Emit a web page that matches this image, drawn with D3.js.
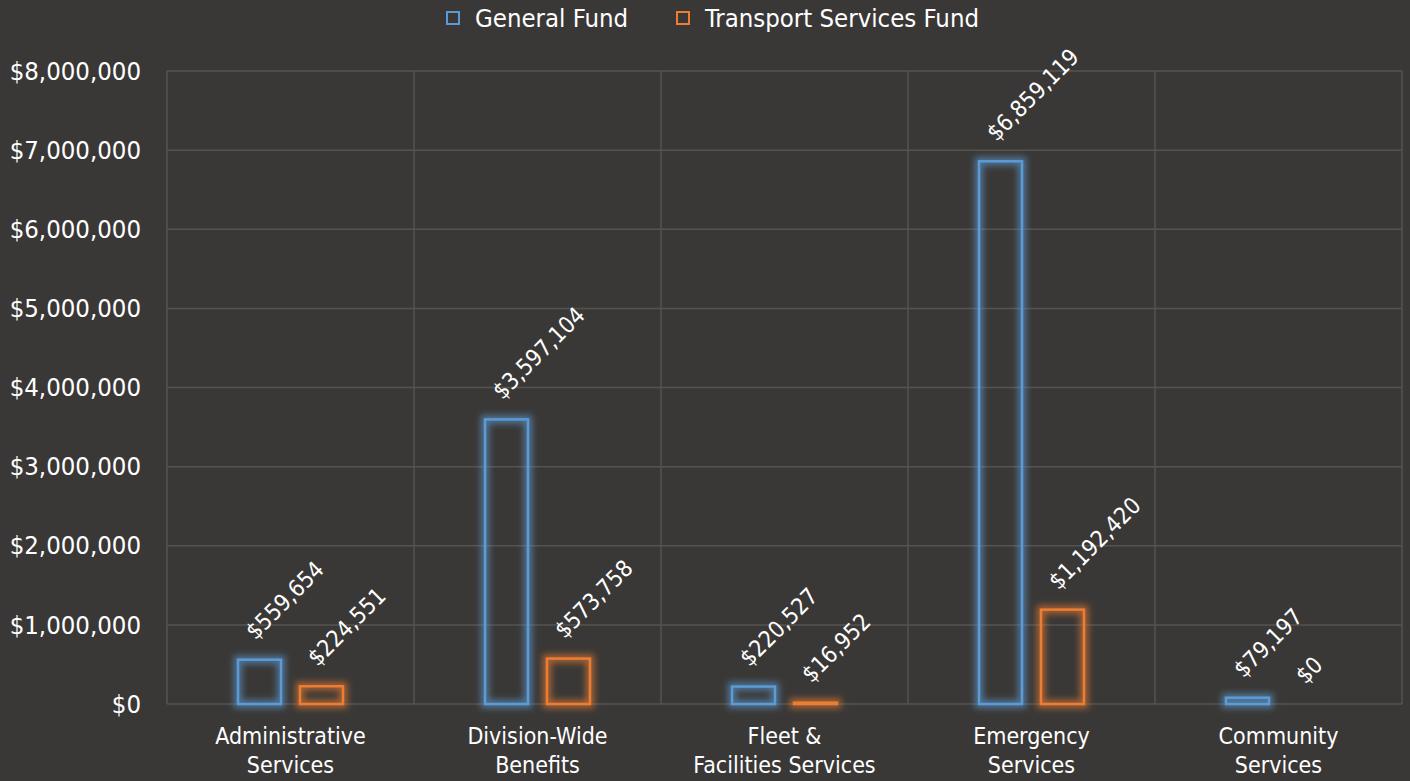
<!DOCTYPE html>
<html>
<head>
<meta charset="utf-8">
<script src="https://cdn.jsdelivr.net/npm/d3@7"></script>
<style>
  body { margin: 0; background: #3a3836; }
  svg { display: block; font-family: "DejaVu Sans Condensed", "DejaVu Sans", sans-serif; }
</style>
</head>
<body>
<svg id="chart" width="1410" height="781"></svg>
<script>
// data
var categories = [["Administrative", "Services"], ["Division-Wide", "Benefits"], ["Fleet &", "Facilities Services"], ["Emergency", "Services"], ["Community", "Services"]];
var seriesNames = ["General Fund", "Transport Services Fund"];
var generalFund = [559654, 3597104, 220527, 6859119, 79197];
var transportFund = [224551, 573758, 16952, 1192420, 0];
var yTicks = [0, 1000000, 2000000, 3000000, 4000000, 5000000, 6000000, 7000000, 8000000];
var colors = ["#5b9bd5", "#ed7d31"];

var width = 1410, height = 781;
var margin = {top: 71, right: 8, bottom: 77, left: 167};

var svg = d3.select("#chart");

// glow filters
var defs = svg.append("defs");
colors.forEach(function (c, i) {
  var f = defs.append("filter").attr("id", "glow" + i)
    .attr("filterUnits", "userSpaceOnUse")
    .attr("x", 0).attr("y", 0).attr("width", width).attr("height", height);
  f.append("feMorphology").attr("in", "SourceGraphic").attr("operator", "dilate").attr("radius", 2.5).attr("result", "d");
  f.append("feGaussianBlur").attr("in", "d").attr("stdDeviation", 3).attr("result", "b");
  f.append("feComponentTransfer").attr("in", "b").attr("result", "b2")
    .append("feFuncA").attr("type", "linear").attr("slope", 0.6);
  var m = f.append("feMerge");
  m.append("feMergeNode").attr("in", "b2");
  m.append("feMergeNode").attr("in", "SourceGraphic");
});

var x0 = d3.scaleBand()
  .domain(d3.range(categories.length))
  .range([margin.left, width - margin.right])
  .padding(0);

var x1 = d3.scaleBand()
  .domain([0, 1])
  .range([0, x0.bandwidth()])
  .paddingInner(0.274)
  .paddingOuter(1.13);

var y = d3.scaleLinear()
  .domain([0, 8000000])
  .range([height - margin.bottom, margin.top]);

var fmt = function (v) { return "$" + d3.format(",")(v); };

// gridlines
var grid = svg.append("g").attr("stroke", "#555350").attr("stroke-width", 1.5);
grid.selectAll("line.h").data(yTicks).join("line")
  .attr("x1", margin.left).attr("x2", width - margin.right)
  .attr("y1", function (d) { return y(d); }).attr("y2", function (d) { return y(d); });
var vx = d3.range(categories.length).map(function (i) { return x0(i); }).concat([width - margin.right]);
grid.selectAll("line.v").data(vx).join("line")
  .attr("x1", function (d) { return d; }).attr("x2", function (d) { return d; })
  .attr("y1", margin.top).attr("y2", height - margin.bottom);

// y axis labels
var yAxis = d3.axisLeft(y).tickValues(yTicks).tickFormat(fmt).tickSize(0).tickPadding(26);
svg.append("g").attr("transform", "translate(" + margin.left + ",0)").call(yAxis)
  .call(function (g) { g.select(".domain").remove(); })
  .selectAll("text").attr("fill", "#ffffff").attr("font-size", 25.5)
  .attr("font-family", "\"DejaVu Sans Condensed\", \"DejaVu Sans\", sans-serif");

// category labels
var cat = svg.append("g").selectAll("text").data(categories).join("text")
  .attr("x", function (d, i) { return x0(i) + x0.bandwidth() / 2; })
  .attr("y", 744)
  .attr("text-anchor", "middle")
  .attr("fill", "#ffffff")
  .attr("font-size", 23);
cat.selectAll("tspan").data(function (d) { return d; }).join("tspan")
  .attr("x", function () { return d3.select(this.parentNode).attr("x"); })
  .attr("dy", function (d, i) { return i === 0 ? 0 : 29; })
  .text(function (d) { return d; });

// bars
var rows = categories.map(function (c, i) { return [generalFund[i], transportFund[i]]; });
var groups = svg.append("g").selectAll("g").data(rows).join("g")
  .attr("transform", function (d, i) { return "translate(" + x0(i) + ",0)"; });

groups.selectAll("rect").data(function (d) { return d; }).join("rect")
  .attr("x", function (d, j) { return x1(j) + 1; })
  .attr("width", x1.bandwidth() - 2)
  .attr("y", function (d) { return y(d); })
  .attr("height", function (d) { return Math.max(0, y(0) - y(d)); })
  .attr("fill", "none")
  .attr("stroke", function (d, j) { return colors[j]; })
  .attr("stroke-width", 2.5)
  .attr("filter", function (d, j) { return "url(#glow" + j + ")"; })
  .attr("display", function (d) { return d > 0 ? null : "none"; });

groups.selectAll("text").data(function (d) { return d; }).join("text")
  .attr("transform", function (d, j) {
    var cx = x1(j) + x1.bandwidth() / 2 - 4;
    var cy = y(d) - 19;
    return "translate(" + cx + "," + cy + ") rotate(-45)";
  })
  .attr("fill", "#ffffff")
  .attr("font-size", 23)
  .text(fmt);

// legend
var legend = svg.append("g").attr("transform", "translate(446,18)");
var lx = [0, 230];
seriesNames.forEach(function (name, i) {
  var g = legend.append("g").attr("transform", "translate(" + lx[i] + ",0)");
  g.append("rect").attr("x", 1).attr("y", -6).attr("width", 12).attr("height", 12)
    .attr("fill", "none").attr("stroke", colors[i]).attr("stroke-width", 2);
  g.append("text").attr("x", 29).attr("y", 9).attr("fill", "#ffffff").attr("font-size", 25.5).text(name);
});
</script>
</body>
</html>
